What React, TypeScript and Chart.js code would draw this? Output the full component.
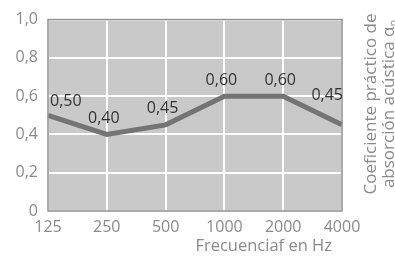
import React, { useEffect, useRef } from "react";
import { Chart, registerables } from "chart.js";

Chart.register(...registerables);

const categories = ["125", "250", "500", "1000", "2000", "4000"];
const values = [0.5, 0.4, 0.45, 0.6, 0.6, 0.45];
const valueLabels = ["0,50", "0,40", "0,45", "0,60", "0,60", "0,45"];
const yMin = 0;
const yMax = 1;
const yStep = 0.2;
const xTitle = "Frecuenciaf en Hz";
const yTitleLine1 = "Coeficiente práctico de";
const yTitleLine2 = "absorción acústica α";
const yTitleSub = "p";

const FONT = "'Open Sans', 'Noto Sans', sans-serif";

const bgPlugin = {
  id: "bg",
  beforeDraw(chart: any) {
    const { ctx, chartArea: a } = chart;
    ctx.save();
    ctx.fillStyle = "#c9c9c9";
    ctx.fillRect(a.left, a.top, a.right - a.left, a.bottom - a.top);
    ctx.restore();
  },
  afterDatasetsDraw(chart: any) {
    const { ctx, chartArea: a } = chart;
    ctx.save();
    ctx.strokeStyle = "#8e8e8e";
    ctx.lineWidth = 1.5;
    ctx.strokeRect(a.left, a.top, a.right - a.left, a.bottom - a.top);
    ctx.restore();
  },
};

const labelPlugin = {
  id: "labels",
  afterDraw(chart: any) {
    const { ctx, chartArea: a } = chart;
    const meta = chart.getDatasetMeta(0);
    ctx.save();
    ctx.font = `16px ${FONT}`;
    ctx.fillStyle = "#333333";
    ctx.textBaseline = "middle";
    const n = meta.data.length;
    meta.data.forEach((pt: any, i: number) => {
      let x = pt.x;
      let y = pt.y - 16;
      if (i === 0) {
        ctx.textAlign = "left";
        x = pt.x + 2;
        y = pt.y - 14;
      } else if (i === n - 1) {
        ctx.textAlign = "right";
        x = pt.x + 1;
        y = pt.y - 29;
      } else {
        ctx.textAlign = "center";
        x = pt.x - 3;
      }
      ctx.fillText(valueLabels[i], x, y);
    });

    // x title
    ctx.fillStyle = "#8a8a8a";
    ctx.font = `16.5px ${FONT}`;
    ctx.textAlign = "right";
    ctx.textBaseline = "middle";
    ctx.fillText(xTitle, a.right - 10, 246);

    // y title on right, rotated
    ctx.font = `17px ${FONT}`;
    ctx.textBaseline = "alphabetic";
    ctx.translate(a.right, 104);
    ctx.rotate(-Math.PI / 2);
    ctx.textAlign = "center";
    ctx.fillText(yTitleLine1, 0, 34);
    const w2 = ctx.measureText(yTitleLine2).width;
    ctx.font = `11px ${FONT}`;
    const ws = ctx.measureText(yTitleSub).width;
    const start = -(w2 + ws) / 2;
    ctx.textAlign = "left";
    ctx.font = `17px ${FONT}`;
    ctx.fillText(yTitleLine2, start, 52);
    ctx.font = `11px ${FONT}`;
    ctx.fillText(yTitleSub, start + w2, 55);
    ctx.restore();
  },
};

export default function App() {
  const ref = useRef<HTMLCanvasElement>(null);
  useEffect(() => {
    document.body.style.margin = "0";
    const chart = new Chart(ref.current!, {
      type: "line",
      data: {
        labels: categories,
        datasets: [
          {
            data: values,
            borderColor: "#747474",
            borderWidth: 5,
            pointRadius: 0,
            tension: 0,
            fill: false,
          },
        ],
      },
      options: {
        responsive: false,
        animation: false,
        layout: { padding: { left: 0, right: 53, top: 15, bottom: 0 } },
        plugins: { legend: { display: false }, tooltip: { enabled: false } },
        scales: {
          x: {
            offset: false,
            grid: { color: "#ffffff", lineWidth: 2, drawTicks: false },
            border: { display: false },
            ticks: {
              color: "#8a8a8a",
              font: { family: FONT, size: 16 },
              padding: 7,
              maxRotation: 0,
              autoSkip: false,
            },
            afterFit(s: any) {
              s.height = 47;
            },
          },
          y: {
            min: yMin,
            max: yMax,
            grid: { color: "#ffffff", lineWidth: 2, drawTicks: false },
            border: { display: false },
            ticks: {
              stepSize: yStep,
              color: "#8a8a8a",
              font: { family: FONT, size: 16 },
              padding: 10,
              callback: (v: any) =>
                v === 0 ? "0" : Number(v).toFixed(1).replace(".", ","),
            },
            afterFit(s: any) {
              s.width = 48;
            },
          },
        },
      },
      plugins: [bgPlugin, labelPlugin],
    });
    return () => chart.destroy();
  }, []);
  return (
    <div style={{ width: 395, height: 258 }}>
      <canvas ref={ref} width={395} height={258} />
    </div>
  );
}
